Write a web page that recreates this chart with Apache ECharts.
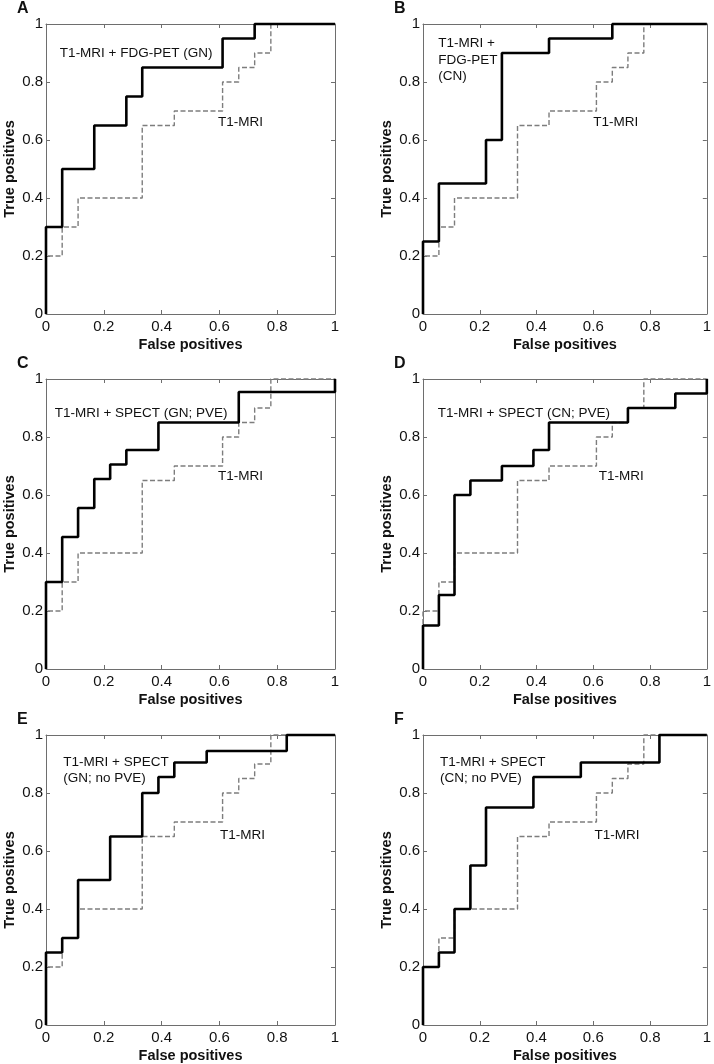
<!DOCTYPE html>
<html>
<head>
<meta charset="utf-8">
<script src="https://cdn.jsdelivr.net/npm/echarts@6/dist/echarts.min.js"></script>
<style>
html, body { margin: 0; padding: 0; background: #fff; }
#main { width: 714px; height: 1064px; }
</style>
</head>
<body>
<div id="main"></div>
<script>
// ROC curves: each pair is (false positive rate, true positive rate after the jump)
var fprT1 = [0, 0, 0.056, 0.111, 0.333, 0.444, 0.611, 0.667, 0.722, 0.778, 1];
var tprT1 = [0, 0.2, 0.3, 0.4, 0.65, 0.7, 0.8, 0.85, 0.9, 1, 1];

var fprA = [0, 0, 0.056, 0.167, 0.278, 0.333, 0.611, 0.722, 1];
var tprA = [0, 0.3, 0.5, 0.65, 0.75, 0.85, 0.95, 1, 1];

var fprB = [0, 0, 0.056, 0.222, 0.278, 0.444, 0.667, 1];
var tprB = [0, 0.25, 0.45, 0.6, 0.9, 0.95, 1, 1];

var fprC = [0, 0, 0.056, 0.111, 0.167, 0.222, 0.278, 0.389, 0.667, 1];
var tprC = [0, 0.3, 0.455, 0.555, 0.655, 0.705, 0.755, 0.85, 0.955, 1];

var fprD = [0, 0, 0.056, 0.111, 0.167, 0.278, 0.389, 0.444, 0.722, 0.889, 1];
var tprD = [0, 0.15, 0.255, 0.6, 0.65, 0.7, 0.755, 0.85, 0.9, 0.95, 1];

var fprE = [0, 0, 0.056, 0.111, 0.222, 0.333, 0.389, 0.444, 0.556, 0.833, 1];
var tprE = [0, 0.25, 0.3, 0.5, 0.65, 0.8, 0.855, 0.905, 0.945, 1, 1];

var fprF = [0, 0, 0.056, 0.111, 0.167, 0.222, 0.389, 0.556, 0.833, 1];
var tprF = [0, 0.2, 0.25, 0.4, 0.55, 0.75, 0.855, 0.905, 1, 1];

var panelLetters = ['A', 'B', 'C', 'D', 'E', 'F'];
var comboNames = [
    'T1-MRI + FDG-PET (GN)',
    'T1-MRI +\nFDG-PET\n(CN)',
    'T1-MRI + SPECT (GN; PVE)',
    'T1-MRI + SPECT (CN; PVE)',
    'T1-MRI + SPECT\n(GN; no PVE)',
    'T1-MRI + SPECT\n(CN; no PVE)'
];
var baseName = 'T1-MRI';

var combos = [[fprA, tprA], [fprB, tprB], [fprC, tprC], [fprD, tprD], [fprE, tprE], [fprF, tprF]];

// layout (pixels / data-space anchors for the text)
var cols = [46, 423], rows = [24, 379, 735];
var plotW = 289, plotH = 290;
var comboPos = [[0.048, 0.90], [0.054, 0.876], [0.03, 0.883], [0.052, 0.883], [0.06, 0.879], [0.06, 0.879]];
var basePos = [[0.595, 0.66], [0.6, 0.66], [0.595, 0.664], [0.619, 0.664], [0.602, 0.655], [0.604, 0.655]];

var FONT = '"Liberation Sans", Arial, Helvetica, sans-serif';
var frameColor = '#6e6e6e';

function zip(xs, ys) {
    return xs.map(function (x, i) { return [x, ys[i]]; });
}

var grids = [], xAxes = [], yAxes = [], series = [];

combos.forEach(function (c, i) {
    var left = cols[i % 2], top = rows[Math.floor(i / 2)];
    grids.push({ left: left, top: top, width: plotW, height: plotH, containLabel: false });

    var common = {
        type: 'value', min: 0, max: 1, interval: 0.2, gridIndex: i,
        axisLine: { show: true, onZero: false, lineStyle: { color: frameColor, width: 1 } },
        axisTick: { show: true, inside: true, length: 4, lineStyle: { color: frameColor } },
        splitLine: { show: false }
    };
    xAxes.push(Object.assign({}, common, {
        position: 'bottom',
        name: 'False positives', nameLocation: 'middle', nameGap: 23,
        nameTextStyle: { fontFamily: FONT, fontSize: 14.5, fontWeight: 'bold', color: '#111' },
        axisLabel: { margin: 5, fontFamily: FONT, fontSize: 15, color: '#111' }
    }));
    xAxes.push(Object.assign({}, common, { position: 'top', axisLabel: { show: false } }));
    yAxes.push(Object.assign({}, common, {
        position: 'left',
        name: 'True positives', nameLocation: 'middle', nameGap: 29,
        nameTextStyle: { fontFamily: FONT, fontSize: 14.5, fontWeight: 'bold', color: '#111' },
        axisLabel: { margin: 3, fontFamily: FONT, fontSize: 15, color: '#111' }
    }));
    yAxes.push(Object.assign({}, common, { position: 'right', axisLabel: { show: false } }));

    series.push({
        type: 'line', name: baseName, xAxisIndex: 2 * i, yAxisIndex: 2 * i,
        data: zip(fprT1, tprT1), step: 'end', symbol: 'none', clip: false,
        lineStyle: { color: '#7d7d7d', width: 1.4, type: [5, 2.5] },
        animation: false
    });
    series.push({
        type: 'line', name: comboNames[i], xAxisIndex: 2 * i, yAxisIndex: 2 * i,
        data: zip(c[0], c[1]), step: 'end', symbol: 'none', clip: false,
        lineStyle: { color: '#000', width: 2.6 },
        animation: false
    });
});

var myChart = echarts.init(document.getElementById('main'), null, { renderer: 'canvas' });
myChart.setOption({
    animation: false,
    backgroundColor: '#fff',
    grid: grids,
    xAxis: xAxes,
    yAxis: yAxes,
    series: series
});

// text labels placed from data coordinates
var graphics = [];
combos.forEach(function (c, i) {
    var left = cols[i % 2], top = rows[Math.floor(i / 2)];
    graphics.push({
        type: 'text', left: left - 29, top: top - 23,
        style: { text: panelLetters[i], font: 'bold 16px ' + FONT, fill: '#111' }
    });
    var p1 = myChart.convertToPixel({ gridIndex: i }, comboPos[i]);
    graphics.push({
        type: 'text', x: p1[0], y: p1[1],
        style: { text: comboNames[i], font: '13.5px ' + FONT, fill: '#111', lineHeight: 16.5,
                 textAlign: 'left', textVerticalAlign: 'middle', verticalAlign: 'middle' }
    });
    var p2 = myChart.convertToPixel({ gridIndex: i }, basePos[i]);
    graphics.push({
        type: 'text', x: p2[0], y: p2[1],
        style: { text: baseName, font: '13.5px ' + FONT, fill: '#111',
                 textAlign: 'left', textVerticalAlign: 'middle', verticalAlign: 'middle' }
    });
});
myChart.setOption({ graphic: graphics });
</script>
</body>
</html>
